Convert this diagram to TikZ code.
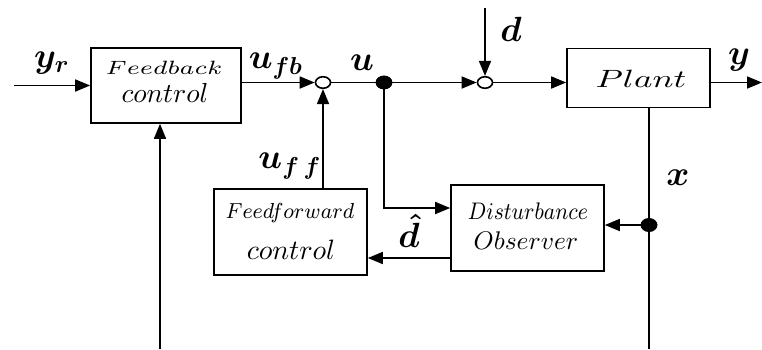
\RequirePackage{fix-cm}
\documentclass[tikz,border=0pt]{standalone}
\usepackage{amsmath}
\usetikzlibrary{arrows.meta,shapes.geometric}
\begin{document}
\begin{tikzpicture}[x=0.4pt,y=-0.4pt,
  line width=0.65pt,
  arr/.style={-{Triangle[length=6pt,width=4.8pt]}},
  blk/.style={draw,rectangle,inner sep=0pt},
  sumc/.style={draw,fill=white,ellipse,minimum width=6pt,minimum height=4.6pt,inner sep=0pt},
  jdot/.style={draw,fill=black,ellipse,minimum width=6pt,minimum height=4.8pt,inner sep=0pt},
  lbl/.style={inner sep=0pt,font=\boldmath\fontsize{14}{16}\selectfont},
  txt/.style={inner sep=0pt}]
\useasboundingbox (0,0) rectangle (762,349);
% blocks
\node[blk,minimum width=60pt,minimum height=30pt] (fb) at (166,85.5) {};
\node[blk,minimum width=61.2pt,minimum height=34.4pt] (ff) at (290.5,232) {};
\node[blk,minimum width=61.2pt,minimum height=34.4pt] (do) at (527.5,228) {};
\node[blk,minimum width=57.2pt,minimum height=23.6pt] (plant) at (638.5,78) {};
% block texts
\node[txt] (fbt1) at (164,68) {\scalebox{1.26}[1]{\fontsize{7.7}{9}\selectfont$Feedback$}};
\node[txt] (fbt2) at (165,93) {\fontsize{11}{13}\selectfont$control$};
\node[txt] (fft1) at (290,213) {\scalebox{0.95}[1]{\fontsize{8.7}{10}\selectfont$Feedforward$}};
\node[txt] (fft2) at (291,250) {\fontsize{11.2}{13}\selectfont$control$};
\node[txt] (dot1) at (528,211) {\scalebox{0.88}[1]{\fontsize{9.6}{11}\selectfont$Disturbance$}};
\node[txt] (dot2) at (526,241) {\fontsize{10.2}{12}\selectfont$Observer$};
\node[txt] (plt) at (641,79) {\scalebox{1.4}[1]{\fontsize{10}{12}\selectfont$Plant$}};
% summing junctions and branch points
\node[sumc] (s1) at (323,82.5) {};
\node[sumc] (s2) at (485,82.5) {};
\node[jdot] (j1) at (384,82.5) {};
\node[jdot] (j2) at (649,225) {};
% free ends
\coordinate (yrin) at (14,85.5);
\coordinate (fbin) at (160,349);
\coordinate (din) at (485,8);
\coordinate (yout) at (762,82.5);
\coordinate (xout) at (649,349);
% connectors
\draw[arr] (yrin) -- (fb.west);
\draw[arr] (fbin) -- (fbin |- fb.south);
\draw[arr] (fb.east |- s1) -- (s1);
\draw[arr] (s1 |- ff.north) -- (s1);
\draw (s1) -- (j1);
\draw[arr] (j1) -- (s2);
\draw[arr] (din) -- (s2);
\draw[arr] (s2) -- (s2 -| plant.west);
\draw[arr] (plant.east |- s2) -- (yout);
\draw[arr] (j1) |- ([yshift=8pt]do.west);
\draw (plant.south -| xout) -- (xout);
\draw[arr] (j2) -- (j2 -| do.east);
\draw[arr] ([yshift=-12pt]do.west) -- ([yshift=-12pt]do.west -| ff.east);
\node[jdot] at (j1) {};
\node[jdot] at (j2) {};
% labels
\node[lbl] (lyr) at (52,63) {$y_r$};
\node[lbl] (lufb) at (276,66) {$u_{fb}$};
\node[lbl] (lu) at (362,63) {$u$};
\node[lbl] (ld) at (511,29) {$d$};
\node[lbl] (ly) at (739,60) {$y$};
\node[lbl] (luff) at (290,166) {$u_{f\,f}$};
\node[lbl] (lx) at (678,178) {$x$};
\node[lbl] (ldh) at (409,231) {$\hat{d}$};
\end{tikzpicture}
\end{document}
